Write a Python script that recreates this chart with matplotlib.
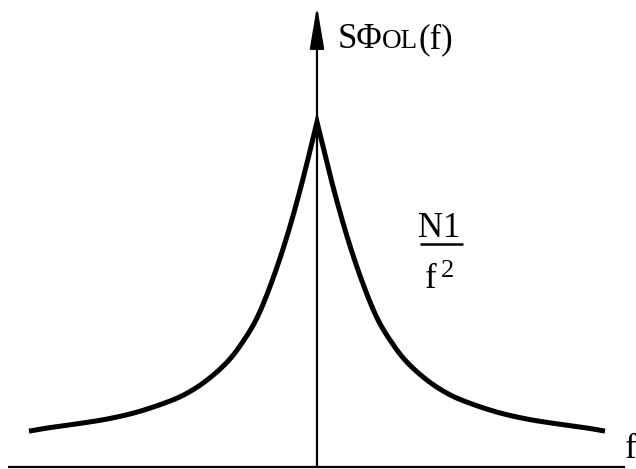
import matplotlib.pyplot as plt
import numpy as np

plt.rcParams['font.family'] = ['Liberation Serif', 'DejaVu Serif']

# right half of the spectrum, mirrored for negative f (peak normalised to 1)
f_half = [0.0, 0.052, 0.103, 0.155, 0.207, 0.259, 0.310, 0.379, 0.448,
          0.517, 0.621, 0.724, 0.828, 0.931, 0.993]
S_half = [1.0, 0.823, 0.670, 0.539, 0.432, 0.359, 0.304, 0.252, 0.214,
          0.188, 0.159, 0.139, 0.125, 0.113, 0.104]

f = np.array([-v for v in f_half[::-1]] + f_half[1:])
S = np.array(S_half[::-1] + S_half[1:])

fig = plt.figure(figsize=(6.36, 4.69), dpi=100)
ax = fig.add_axes([0, 0, 1, 1])
ax.set_xlim(-317 / 290, 319 / 290)
ax.set_ylim(-2 / 345, 467 / 345)
ax.axis('off')

# smooth the polyline a little for drawing (Catmull-Rom)
def smooth(x, y, n=20):
    px = np.concatenate([[x[0]], x, [x[-1]]])
    py = np.concatenate([[y[0]], y, [y[-1]]])
    xs, ys = [], []
    t = np.linspace(0, 1, n, endpoint=False)
    for i in range(1, len(px) - 2):
        for p, out in ((px, xs), (py, ys)):
            p0, p1, p2, p3 = p[i - 1], p[i], p[i + 1], p[i + 2]
            out.extend(0.5 * (2 * p1 + (-p0 + p2) * t
                              + (2 * p0 - 5 * p1 + 4 * p2 - p3) * t ** 2
                              + (-p0 + 3 * p1 - 3 * p2 + p3) * t ** 3))
    xs.append(x[-1]); ys.append(y[-1])
    return np.array(xs), np.array(ys)

# each branch separately so the peak stays a cusp
k = len(f_half) - 1
xl, yl = smooth(f[:k + 1], S[:k + 1])
xr, yr = smooth(f[k:], S[k:])
ax.plot(np.concatenate([xl, xr]), np.concatenate([yl, yr]),
        color='black', lw=3.6, solid_capstyle='butt', solid_joinstyle='miter')

# axes
ax.plot([-1.066, 1.062], [0, 0], color='black', lw=1.6, solid_capstyle='butt')
ax.annotate('', xy=(0, 1.336), xytext=(0, 0),
            arrowprops=dict(arrowstyle='-|>,head_length=1.3,head_width=0.22',
                            mutation_scale=20, lw=1.6, color='black',
                            shrinkA=0, shrinkB=0))

# y label  S Φ OL (f), with small "OL"
fig.canvas.draw()
renderer = fig.canvas.get_renderer()
inv = ax.transData.inverted()
x = 0.070
yb = 1.2145
for txt, size in (('SΦ', 25), ('OL', 19.5), ('(f)', 25)):
    t = ax.text(x, yb, txt, fontsize=size, va='baseline', ha='left')
    x1 = t.get_window_extent(renderer).x1
    x = inv.transform((x1, 0))[0]

# N1 / f^2
ax.text(0.4224, 0.667, 'N1', fontsize=25, va='baseline', ha='center')
ax.plot([0.355, 0.503], [0.646, 0.646], color='black', lw=1.8, solid_capstyle='butt')
ax.text(0.372, 0.519, 'f', fontsize=25, va='baseline', ha='left')
ax.text(0.428, 0.551, '2', fontsize=19, va='baseline', ha='left')

# x label
ax.text(1.062, 0.026, 'f', fontsize=25, va='baseline', ha='left')

fig.savefig('out.png', dpi=100)
